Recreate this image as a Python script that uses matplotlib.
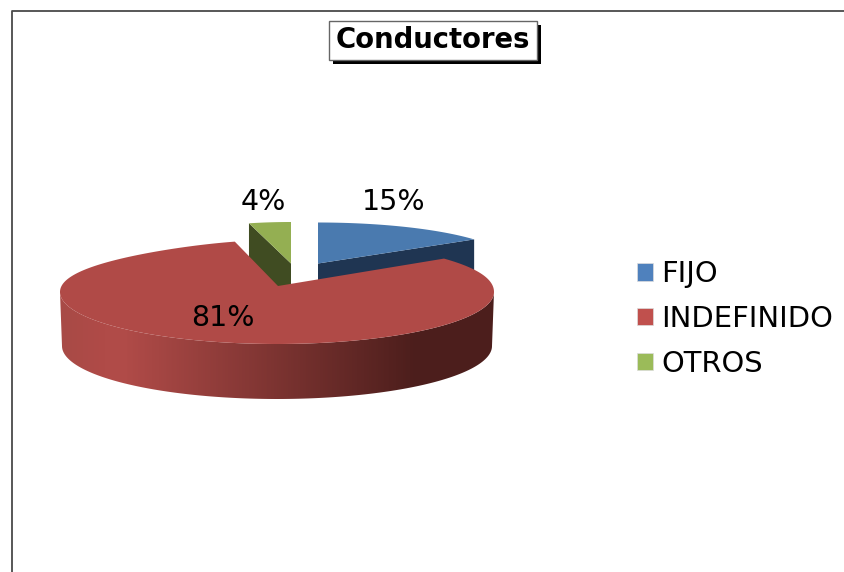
"""Conductores: exploded 3D-look pie, drawn with polygons in pixel-sized axes."""
import matplotlib

matplotlib.use("Agg")
import matplotlib.pyplot as plt
import numpy as np
from matplotlib.colors import LinearSegmentedColormap
from matplotlib.patches import Patch, Polygon, Rectangle

categories = ["FIJO", "INDEFINIDO", "OTROS"]
shares = [15, 81, 4]

TOP_COLORS = ["#4A7AAF", "#B04A47", "#94AF52"]
SIDE_COLORS = ["#1F3552", None, "#404C22"]
LEGEND_COLORS = ["#4F81BD", "#C0504D", "#9BBB59"]

plt.rcParams["font.family"] = ["DejaVu Sans"]


def rim(cx, cy, rx, ry, start, end, n=200, squeeze=0.0, lift=0.0):
    # angles in degrees, clockwise from the top of the ellipse
    t = np.radians(np.linspace(start, end, n))
    s, c = np.sin(t), np.cos(t)
    scale = 1 - squeeze * np.clip(c, 0, None) ** 3
    # lift nudges the back right quadrant up, the original has some perspective there
    rise = 2 * lift * np.clip(s, 0, None) * np.clip(c, 0, None)
    return cx + rx * s * scale, cy - ry * c - rise


fig = plt.figure(figsize=(8.44, 5.72), dpi=100)
ax = fig.add_axes([0, 0, 1, 1])

# outer chart frame, runs off the right and bottom of the picture
ax.plot([11.5, 11.5, 844], [572, 10.5, 10.5], color="#4a4a4a", lw=1.3, zorder=1)

edges = np.cumsum([0] + shares) * 3.6

# FIJO slice
fx, fy = rim(318, 263.5, 193, 41, edges[0], edges[1])
ax.add_patch(Polygon(
    [(318, 263.5), (fx[-1], fy[-1]), (fx[-1], fy[-1] + 40), (318, 303)],
    color=SIDE_COLORS[0], lw=0, zorder=2))
ax.fill(np.r_[318, fx], np.r_[263.5, fy], color=TOP_COLORS[0], lw=0, zorder=3)

# OTROS slice
ox, oy = rim(291, 263.5, 169, 41.5, edges[2] - 360, edges[3] - 360)
ax.add_patch(Polygon(
    [(ox[0], oy[0]), (291, 263.5), (291, 303), (ox[0], oy[0] + 40)],
    color=SIDE_COLORS[2], lw=0, zorder=2))
ax.fill(np.r_[291, ox], np.r_[263.5, oy], color=TOP_COLORS[2], lw=0, zorder=3)

# INDEFINIDO slice: front wall with its gradient, then the top face
tx, ty = rim(277, 292, 217, 52, 90, 270)
bx, by = rim(277, 346, 215, 53, 90, 270)
wall = Polygon(np.c_[np.r_[tx, bx[::-1]], np.r_[ty, by[::-1]]], transform=ax.transData,
               facecolor="none", lw=0)
ax.add_patch(wall)
wall_cmap = LinearSegmentedColormap.from_list(
    "wall",
    [(0.00, "#A84A46"), (0.10, "#B04B48"), (0.15, "#B04B48"),
     (0.82, "#4C1E1C"), (1.00, "#4C1E1C")],
)
img = ax.imshow(np.linspace(0, 1, 435).reshape(1, -1), cmap=wall_cmap, aspect="auto",
                extent=(60, 495, 410, 280), zorder=4)
img.set_clip_path(wall)

rx_, ry_ = rim(277, 292, 217, 52, edges[1], edges[2], n=500, squeeze=0.24, lift=3)
ax.fill(np.r_[278, rx_], np.r_[286, ry_], color=TOP_COLORS[1], lw=0, zorder=5)

# percentage labels
label_pos = [(394, 202), (223, 318), (263, 202)]
for value, (lx, ly) in zip(shares, label_pos):
    ax.text(lx, ly, f"{value}%", ha="center", va="center", fontsize=20.5,
            color="black", zorder=6)

# title box with hard shadow
ax.add_patch(Rectangle((333, 25), 208, 39, facecolor="black", lw=0, zorder=6))
ax.add_patch(Rectangle((329, 21), 208, 39, facecolor="white", edgecolor="#666666",
                       lw=1, zorder=7))
ax.text(433, 40.5, "Conductores", ha="center", va="center", fontsize=19.8,
        fontweight="bold", color="black", zorder=8)

ax.set_xlim(0, 844)
ax.set_ylim(572, 0)
ax.axis("off")

handles = [Patch(facecolor=c, edgecolor="#dddddd", lw=0.5) for c in LEGEND_COLORS]
ax.legend(handles, categories, loc="center left", bbox_to_anchor=(637, 319),
          bbox_transform=ax.transData, frameon=False, fontsize=20.9,
          handlelength=0.55, handleheight=0.55, handletextpad=0.28,
          labelspacing=0.58, borderpad=0, borderaxespad=0)

fig.savefig("out.png", dpi=100)
